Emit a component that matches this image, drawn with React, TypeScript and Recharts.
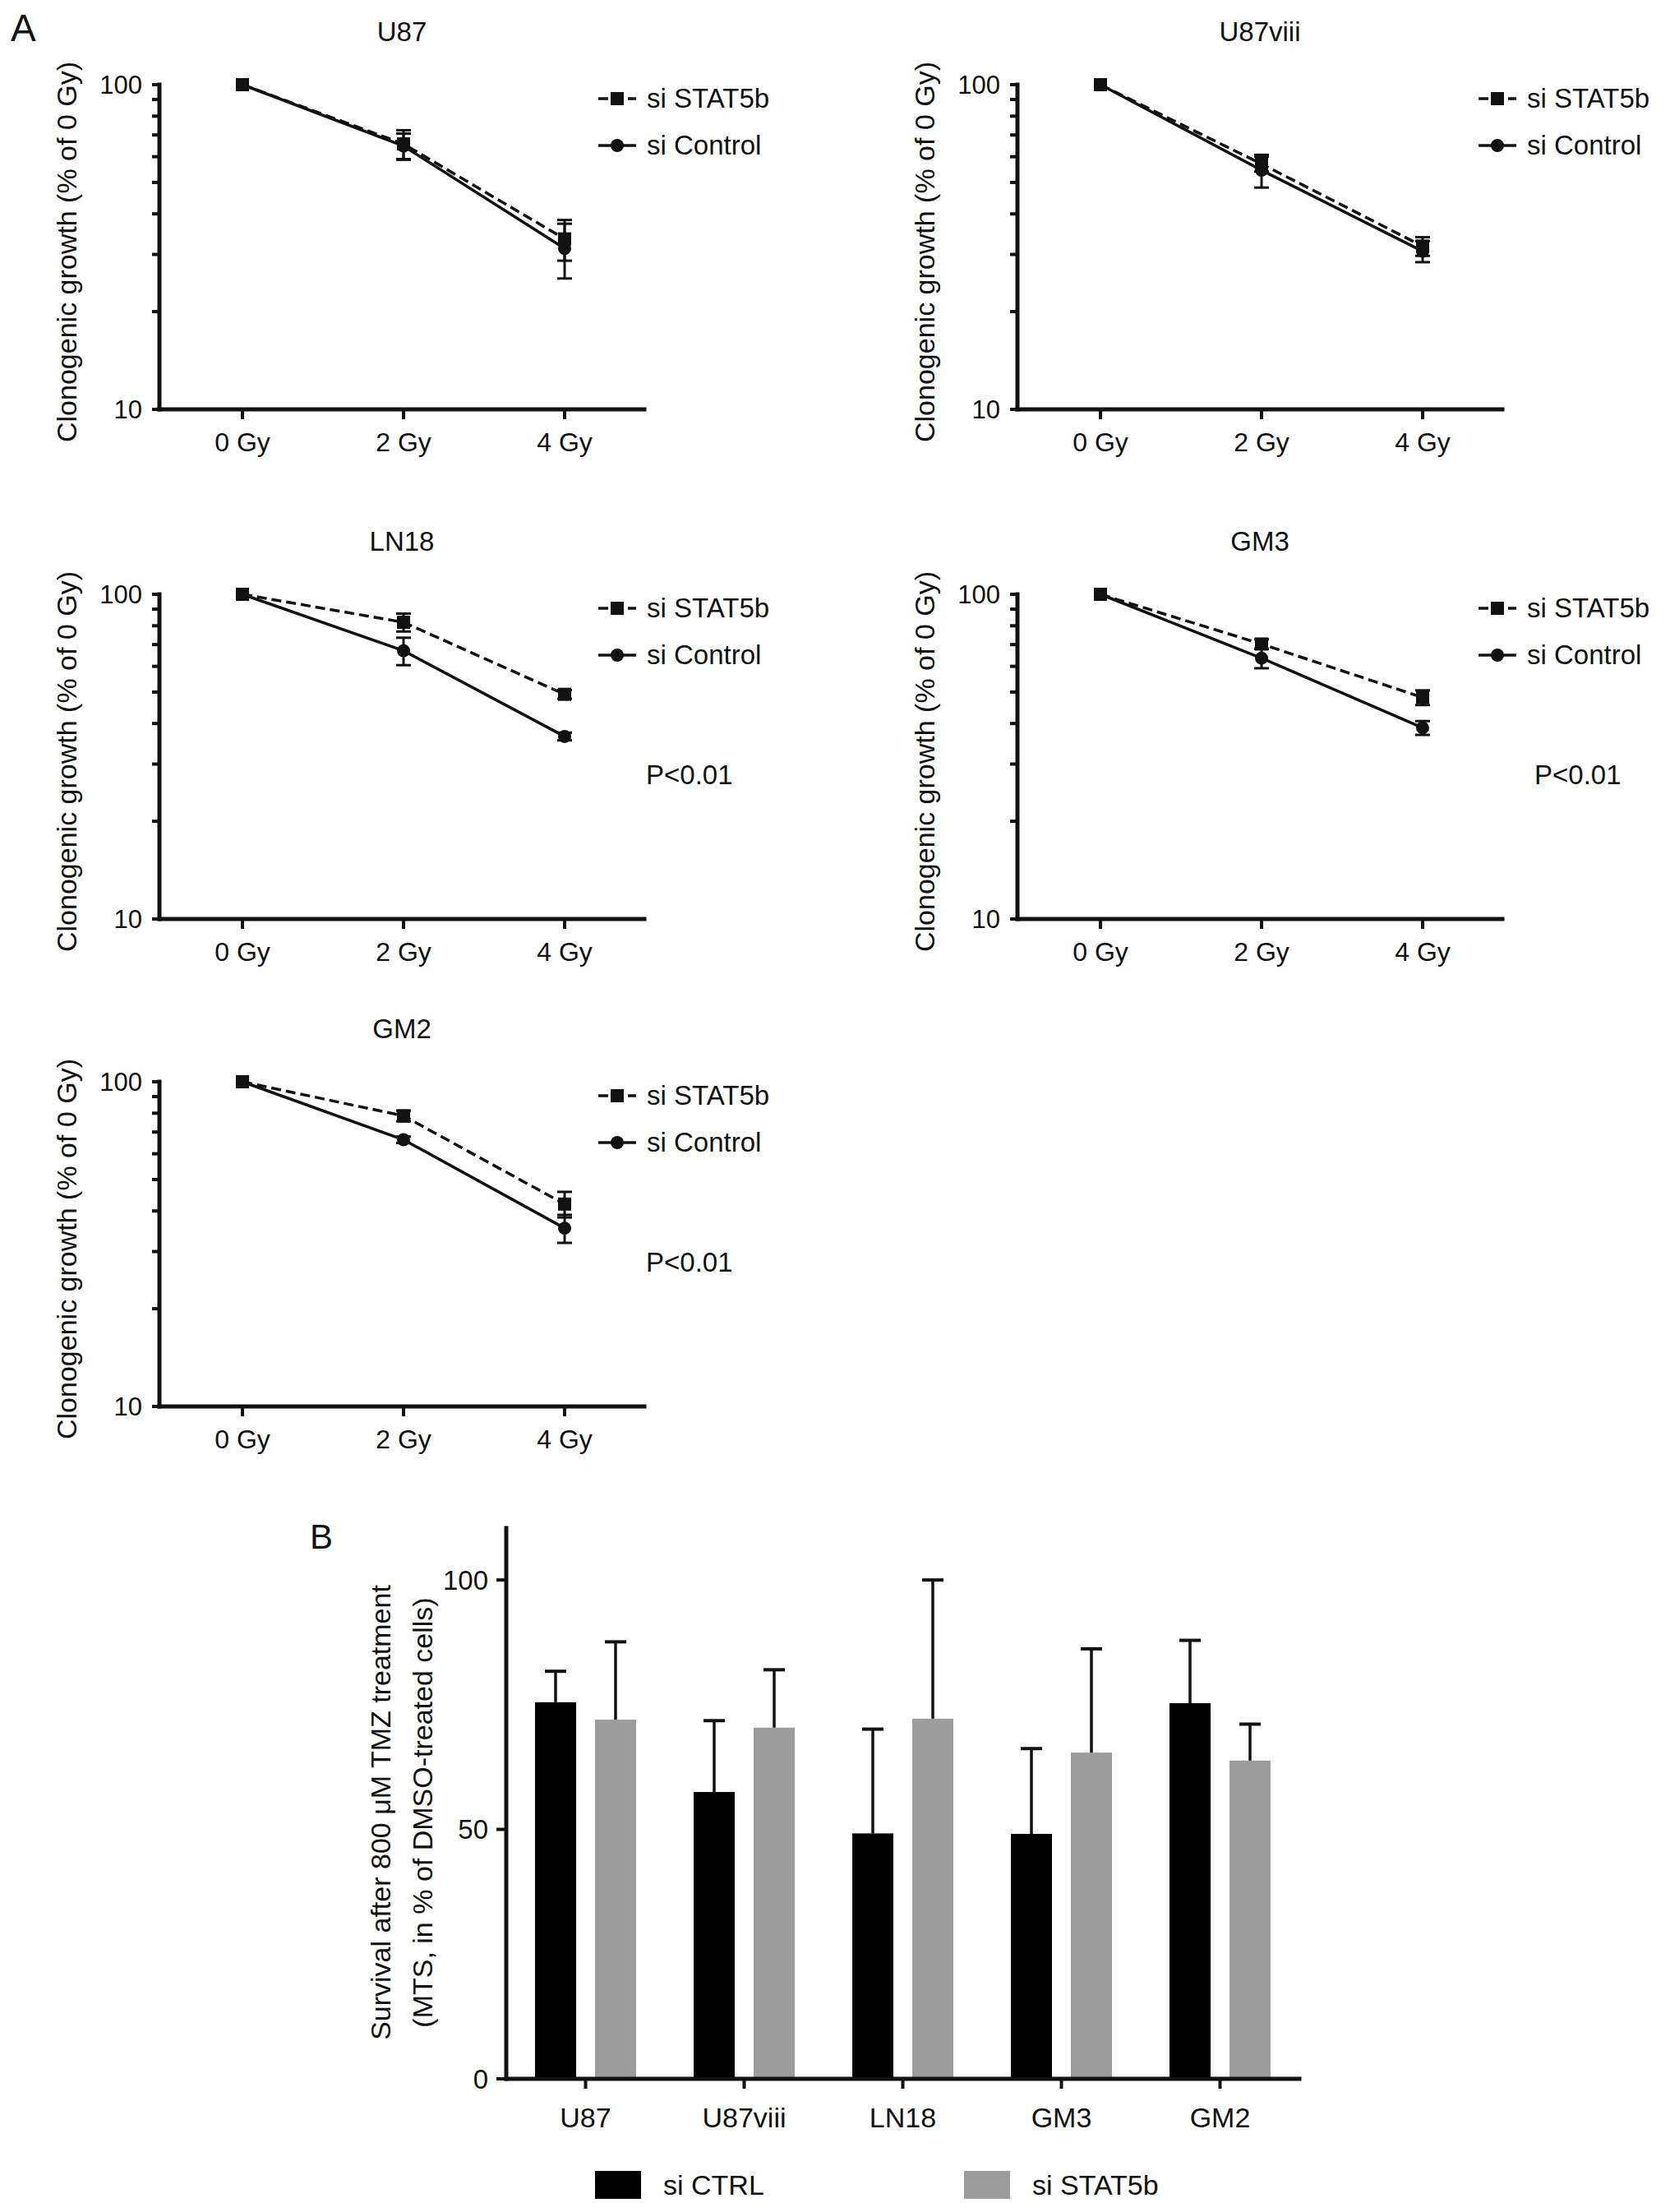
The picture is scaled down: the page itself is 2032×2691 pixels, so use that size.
import React from "react";
import {
  Bar,
  BarChart,
  ErrorBar,
  Label,
  Legend,
  Line,
  LineChart,
  XAxis,
  YAxis,
} from "recharts";

const FONT = "'Liberation Sans', Arial, Helvetica, sans-serif";
const INK = "#111";
const GREY = "#9c9c9c";

// ---- panel A: clonogenic growth (% of 0 Gy), log axis ----
const doseLabels = ["0 Gy", "2 Gy", "4 Gy"];
const logTicks = [10, 20, 30, 40, 50, 60, 70, 80, 90, 100];

const u87Stat5b = [100, 65.7, 33.5];
const u87Stat5bErr = [null, 6.7, 4.8];
const u87Control = [100, 64.7, 31.3];
const u87ControlErr = [null, 6, 6];

const u87viiiStat5b = [100, 57, 31.8];
const u87viiiStat5bErr = [null, 3, 2.1];
const u87viiiControl = [100, 54.5, 30.7];
const u87viiiControlErr = [null, 6.3, 2.3];

const ln18Stat5b = [100, 82, 49.2];
const ln18Stat5bErr = [null, 5.2, 1.5];
const ln18Control = [100, 67, 36.5];
const ln18ControlErr = [null, 6.5, 1];

const gm3Stat5b = [100, 70.3, 48.1];
const gm3Stat5bErr = [null, 2.4, 2.5];
const gm3Control = [100, 63.6, 38.8];
const gm3ControlErr = [null, 4.4, 1.9];

const gm2Stat5b = [100, 78.5, 42];
const gm2Stat5bErr = [null, 3, 3.8];
const gm2Control = [100, 66.3, 35.4];
const gm2ControlErr = [null, 1.5, 3.5];

// ---- panel B: survival after TMZ ----
const cellLines = ["U87", "U87viii", "LN18", "GM3", "GM2"];
const tmzCtrl = [75.5, 57.5, 49.2, 49.1, 75.3];
const tmzCtrlErr = [6.2, 14.3, 20.9, 17.1, 12.6];
const tmzStat5b = [72, 70.4, 72.2, 65.4, 63.8];
const tmzStat5bErr = [15.6, 11.6, 27.8, 20.8, 7.3];
const survivalTicks = [0, 50, 100];

const panels = [
  { title: "U87", axisX: 194, y100: 103, legendDx: 534, pDx: null, s: u87Stat5b, se: u87Stat5bErr, c: u87Control, ce: u87ControlErr },
  { title: "U87viii", axisX: 1238, y100: 103, legendDx: 561, pDx: null, s: u87viiiStat5b, se: u87viiiStat5bErr, c: u87viiiControl, ce: u87viiiControlErr },
  { title: "LN18", axisX: 194, y100: 723, legendDx: 534, pDx: 592, s: ln18Stat5b, se: ln18Stat5bErr, c: ln18Control, ce: ln18ControlErr },
  { title: "GM3", axisX: 1238, y100: 723, legendDx: 561, pDx: 629, s: gm3Stat5b, se: gm3Stat5bErr, c: gm3Control, ce: gm3ControlErr },
  { title: "GM2", axisX: 194, y100: 1316, legendDx: 534, pDx: 592, s: gm2Stat5b, se: gm2Stat5bErr, c: gm2Control, ce: gm2ControlErr },
];

// chart-local geometry of one growth panel
const AX = 194; // y axis x
const AY = 103; // y of the 100 line
const PLOT_W = 590;
const PLOT_H = 395;
const CHART_W = 985;
const CHART_H = 600;

const squareDot = (p: any) => (
  <rect key={`sq-${p.index}`} x={p.cx - 8} y={p.cy - 8} width={16} height={16} fill={INK} />
);
const circleDot = (p: any) => (
  <circle key={`ci-${p.index}`} cx={p.cx} cy={p.cy} r={8} fill={INK} />
);

const lineSeries = [
  { name: "si STAT5b", dash: "12 6", marker: "square" },
  { name: "si Control", dash: undefined, marker: "circle" },
];

function GrowthLegend() {
  return (
    <div style={{ fontFamily: FONT, fontSize: 33, color: INK }}>
      {lineSeries.map((s) => (
        <div key={s.name} style={{ display: "flex", alignItems: "center", height: 57 }}>
          <svg width={46} height={24} style={{ marginRight: 13 }}>
            <line x1={0} y1={12} x2={46} y2={12} stroke={INK} strokeWidth={3.5} strokeDasharray={s.dash} />
            {s.marker === "square" ? (
              <rect x={15} y={4} width={16} height={16} fill={INK} />
            ) : (
              <circle cx={23} cy={12} r={8} fill={INK} />
            )}
          </svg>
          <span style={{ whiteSpace: "nowrap" }}>{s.name}</span>
        </div>
      ))}
    </div>
  );
}

function GrowthPanel({ p }: { p: any }) {
  const data = doseLabels.map((dose, i) => ({
    dose,
    stat5b: p.s[i],
    stat5bErr: p.se[i],
    control: p.c[i],
    controlErr: p.ce[i],
  }));

  return (
    <div style={{ position: "absolute", left: p.axisX - AX, top: p.y100 - AY, width: CHART_W, height: CHART_H }}>
      <LineChart
        width={CHART_W}
        height={CHART_H}
        data={data}
        margin={{ top: AY, left: AX - 100, right: CHART_W - AX - PLOT_W, bottom: CHART_H - AY - PLOT_H - 60 }}
      >
        <XAxis
          dataKey="dose"
          height={60}
          padding={{ left: 101, right: 97 }}
          interval={0}
          axisLine={{ stroke: INK, strokeWidth: 5, strokeLinecap: "square" }}
          tickLine={{ stroke: INK, strokeWidth: 4 }}
          tickSize={12}
          tickMargin={16}
          tick={{ fontSize: 32, fill: INK, fontFamily: FONT }}
        />
        <YAxis
          type="number"
          scale="log"
          domain={[10, 100]}
          ticks={logTicks}
          interval={0}
          tickFormatter={(v: number) => (v === 10 || v === 100 ? String(v) : "")}
          width={100}
          axisLine={{ stroke: INK, strokeWidth: 5, strokeLinecap: "square" }}
          tickLine={{ stroke: INK, strokeWidth: 4 }}
          tickSize={9}
          tickMargin={12}
          tick={{ fontSize: 31, fill: INK, fontFamily: FONT }}
        >
          <Label
            content={({ viewBox }: any) => {
              const cx = viewBox.x + viewBox.width - 113;
              const cy = viewBox.y + viewBox.height / 2 + 6;
              return (
                <text
                  x={cx}
                  y={cy}
                  transform={`rotate(-90, ${cx}, ${cy})`}
                  textAnchor="middle"
                  dominantBaseline="central"
                  fontSize={34}
                  fontFamily={FONT}
                  fill={INK}
                >
                  Clonogenic growth (% of 0 Gy)
                </text>
              );
            }}
          />
        </YAxis>
        <Legend
          layout="horizontal"
          verticalAlign="middle"
          align="center"
          content={() => <GrowthLegend />}
          wrapperStyle={{ left: AX + p.legendDx, top: AY + 17 - 28.5, width: "auto", height: "auto" }}
        />
        <Line
          dataKey="stat5b"
          name="si STAT5b"
          stroke={INK}
          strokeWidth={3.5}
          strokeDasharray="12 6"
          dot={squareDot}
          activeDot={false}
          isAnimationActive={false}
        >
          <ErrorBar dataKey="stat5bErr" direction="y" width={9} strokeWidth={3} stroke={INK} />
        </Line>
        <Line
          dataKey="control"
          name="si Control"
          stroke={INK}
          strokeWidth={3.5}
          dot={circleDot}
          activeDot={false}
          isAnimationActive={false}
        >
          <ErrorBar dataKey="controlErr" direction="y" width={9} strokeWidth={3} stroke={INK} />
        </Line>
      </LineChart>
    </div>
  );
}

// bar with an upper-only error whisker
const upperErrorShape = (valKey: string, errKey: string) => (props: any) => {
  const { x, y, width, height, fill, payload } = props;
  const v = payload[valKey];
  const e = payload[errKey];
  const k = v ? height / v : 0;
  const cx = x + width / 2;
  const top = y - e * k;
  return (
    <g>
      <rect x={x} y={y} width={width} height={height} fill={fill} />
      <line x1={cx} y1={y} x2={cx} y2={top} stroke={INK} strokeWidth={3.5} />
      <line x1={cx - 13} y1={top} x2={cx + 13} y2={top} stroke={INK} strokeWidth={4} />
    </g>
  );
};

const barSeries = [
  { name: "si CTRL", color: "#000" },
  { name: "si STAT5b", color: GREY },
];

function SurvivalChart() {
  const data = cellLines.map((cell, i) => ({
    cell,
    ctrl: tmzCtrl[i],
    ctrlErr: tmzCtrlErr[i],
    stat5b: tmzStat5b[i],
    stat5bErr: tmzStat5bErr[i],
  }));
  const W = 2032;
  const H = 891;
  const left = 616;
  const right = 1581;
  const top = 59;
  const bottom = 729;

  return (
    <div style={{ position: "absolute", left: 0, top: 1800, width: W, height: H }}>
      <BarChart
        width={W}
        height={H}
        data={data}
        margin={{ top, left: left - 100, right: W - right, bottom: H - bottom - 70 }}
        barSize={50}
        barGap={23}
      >
        <XAxis
          dataKey="cell"
          height={70}
          interval={0}
          axisLine={{ stroke: INK, strokeWidth: 5, strokeLinecap: "square" }}
          tickLine={{ stroke: INK, strokeWidth: 4 }}
          tickSize={12}
          tickMargin={23}
          tick={{ fontSize: 34, fill: INK, fontFamily: FONT }}
        />
        <YAxis
          type="number"
          domain={[0, 110.4]}
          ticks={survivalTicks}
          interval={0}
          width={100}
          axisLine={{ stroke: INK, strokeWidth: 5, strokeLinecap: "square" }}
          tickLine={{ stroke: INK, strokeWidth: 4 }}
          tickSize={12}
          tickMargin={10}
          tick={{ fontSize: 33, fill: INK, fontFamily: FONT }}
        >
          <Label
            content={({ viewBox }: any) => {
              const ax = viewBox.x + viewBox.width;
              const cy = viewBox.y + viewBox.height / 2 + 11;
              const lines = [
                { t: "Survival after 800 \u03bcM TMZ treatment", cx: ax - 153 },
                { t: "(MTS, in % of DMSO-treated cells)", cx: ax - 102 },
              ];
              return (
                <g>
                  {lines.map((l) => (
                    <text
                      key={l.t}
                      x={l.cx}
                      y={cy}
                      transform={`rotate(-90, ${l.cx}, ${cy})`}
                      textAnchor="middle"
                      dominantBaseline="central"
                      fontSize={34}
                      fontFamily={FONT}
                      fill={INK}
                    >
                      {l.t}
                    </text>
                  ))}
                </g>
              );
            }}
          />
        </YAxis>
        <Legend
          layout="horizontal"
          verticalAlign="middle"
          align="center"
          wrapperStyle={{ left: 724, top: 858 - 25, width: "auto", height: "auto" }}
          content={() => (
            <div style={{ display: "flex", fontFamily: FONT, fontSize: 34, color: INK }}>
              {barSeries.map((s) => (
                <div key={s.name} style={{ display: "flex", alignItems: "center", width: 449, height: 50 }}>
                  <div style={{ width: 56, height: 34, background: s.color, marginRight: 27 }} />
                  <span style={{ whiteSpace: "nowrap" }}>{s.name}</span>
                </div>
              ))}
            </div>
          )}
        />
        <Bar dataKey="ctrl" name="si CTRL" fill="#000" shape={upperErrorShape("ctrl", "ctrlErr")} isAnimationActive={false} />
        <Bar dataKey="stat5b" name="si STAT5b" fill={GREY} shape={upperErrorShape("stat5b", "stat5bErr")} isAnimationActive={false} />
      </BarChart>
    </div>
  );
}

export default function App() {
  return (
    <div
      style={{
        position: "absolute",
        left: 0,
        top: 0,
        width: 2032,
        height: 2691,
        overflow: "hidden",
        background: "#fff",
        fontFamily: FONT,
      }}
    >
      {panels.map((p) => (
        <GrowthPanel key={p.title} p={p} />
      ))}
      <SurvivalChart />
      <svg
        width={2032}
        height={2691}
        style={{ position: "absolute", left: 0, top: 0, pointerEvents: "none" }}
        fontFamily={FONT}
        fill={INK}
      >
        <text x={13} y={50} fontSize={46}>A</text>
        <text x={377} y={1884} fontSize={42}>B</text>
        {panels.map((p) => (
          <text key={`t-${p.title}`} x={p.axisX + 295} y={p.y100 - 53} fontSize={33} textAnchor="middle">
            {p.title}
          </text>
        ))}
        {panels
          .filter((p) => p.pDx != null)
          .map((p) => (
            <text key={`p-${p.title}`} x={p.axisX + (p.pDx as number)} y={p.y100 + 231} fontSize={33}>
              P&lt;0.01
            </text>
          ))}
      </svg>
    </div>
  );
}
